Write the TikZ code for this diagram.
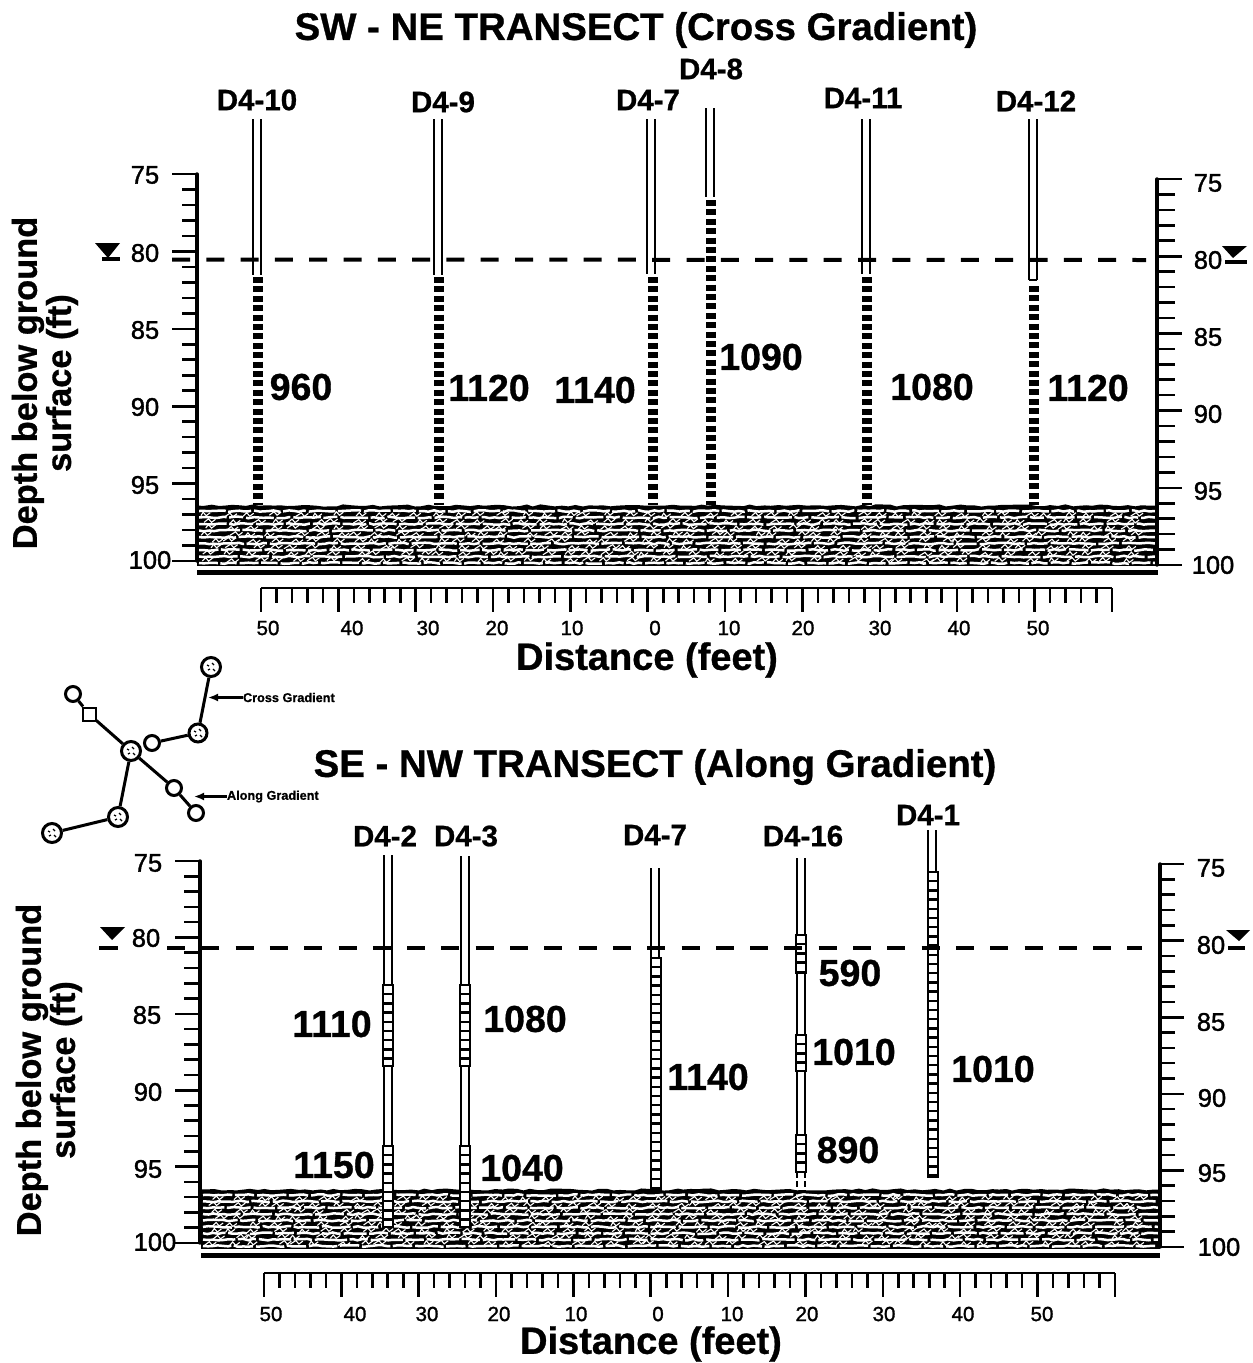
\documentclass[tikz,border=0pt]{standalone}
\usepackage{fontspec}
\setmainfont{Liberation Sans}
\newfontfamily\boldface[FakeBold=0.8]{Liberation Sans Bold}
\newfontfamily\semiface[FakeBold=1.4]{Liberation Sans}
\usetikzlibrary{decorations.pathmorphing,arrows.meta}
\newcount\txtc
\tikzset{
 x=1pt,y=-1pt,
 lbl/.style={inner sep=0pt,outer sep=0pt,anchor=center},
 titletxt/.style={lbl,font=\boldface\fontsize{38.4}{38.4}\selectfont},
 disttxt/.style={lbl,font=\boldface\fontsize{38}{38}\selectfont},
 depthtxt/.style={lbl,rotate=90,font=\boldface\fontsize{34.4}{34.4}\selectfont},
 welltxt/.style={lbl,font=\boldface\fontsize{29.5}{29.5}\selectfont},
 valtxt/.style={lbl,font=\boldface\fontsize{37.5}{37.5}\selectfont},
 axtxt/.style={lbl,font=\semiface\fontsize{25.5}{25.5}\selectfont},
 scaletxt/.style={lbl,font=\semiface\fontsize{20.5}{20.5}\selectfont},
 smalltxt/.style={lbl,anchor=west,font=\boldface\fontsize{12.7}{12.7}\selectfont},
 axisline/.style={line width=3.4pt,line cap=round},
 tickline/.style={line width=2.6pt},
 wt/.style={line width=4pt,dash pattern=on 18pt off 16.3pt},
 casing/.style={line width=2.4pt},
 screenbox/.style={fill=white,draw=black,line width=2.6pt},
 mapc/.style={circle,draw=black,fill=white,line width=3pt,inner sep=0pt},
 mapedge/.style={line width=3pt},
 arr/.style={line width=2.2pt,-{Latex[length=10pt,width=8pt]}},
 wob/.style={decorate,decoration={random steps,segment length=5pt,amplitude=0.8pt}},
}
\newcommand\txt[4]{\global\advance\txtc by 1 \node[#1] (t\the\txtc) at (#2,#3) {#4};}
\newcommand\yaxis[5]{%
 \draw[axisline] (#1,#2) -- (#1,#3);
 \foreach \k in {0,...,25}{%
  \pgfmathsetmacro\yy{#2+\k*(#3-#2)/25}%
  \pgfmathtruncatemacro\mm{mod(\k,5)}%
  \ifnum\mm=0 \draw[tickline] (#1,\yy) -- (#4,\yy);
  \else \draw[tickline] (#1,\yy) -- (#5,\yy);\fi
 }}
\newcommand\xscale[2]{%
 \draw[tickline] (#1,#2) -- ({#1+55*15.47},#2);
 \foreach \k in {0,...,55}{%
  \pgfmathsetmacro\xx{#1+\k*15.47}%
  \pgfmathtruncatemacro\mm{mod(\k,5)}%
  \ifnum\mm=0 \draw[tickline] (\xx,#2) -- (\xx,{#2+24});
  \else \draw[tickline] (\xx,#2) -- (\xx,{#2+15});\fi
 }}
\newcommand\clay[4]{%
 \fill[black] (#1,#2) rectangle (#3,#4);
 \foreach \r in {0,...,8}{%
  \pgfmathsetmacro\yy{#2+4+\r*(#4-#2-7)/8}%
  \pgfmathsetmacro\da{18+rnd*30}\pgfmathsetmacro\db{12+rnd*20}%
  \draw[white,line width=2.5pt,wob,dash pattern=on \da pt off 2.5pt on \db pt off 3pt] (#1+2,\yy) -- (#3-2,\yy);
 }
 \foreach \r in {0,...,7}{%
  \foreach \c in {0,...,44}{%
   \pgfmathsetmacro\xx{#1+3+\c*((#3-#1-20)/45)+rnd*14}%
   \pgfmathsetmacro\yy{#2+8+\r*(#4-#2-7)/8+rnd*2}%
   \pgfmathsetmacro\aa{2+rnd*4}%
   \draw[white,line width=1.1pt] (\xx,\yy) -- ++(\aa,-3.5) -- ++(3,3.5) -- ++(4,-3);
  }
 }
 \draw[black,line width=3pt,decorate,decoration={random steps,segment length=7pt,amplitude=1.1pt}] (#1,#2) -- (#3,#2);
}
\newcommand\casingpipe[3]{\draw[casing] (#1-4.2,#2) -- (#1-4.2,#3) (#1+4.2,#2) -- (#1+4.2,#3);}
\newcommand\barscreen[3]{\draw[line width=10.5pt,dash pattern=on 6pt off 3.4pt] (#1,#2) -- (#1,#3);}
\newcommand\cellscreen[3]{%
 \draw[screenbox] (#1-5,#2) rectangle (#1+5,#3);
 \pgfmathsetmacro\nn{int((#3-#2)/9.2)}%
 \foreach \k in {1,...,\nn}{\pgfmathsetmacro\yy{#2+\k*9.2}\ifdim\yy pt<#3pt \draw[line width=2.4pt] (#1-5,\yy) -- (#1+5,\yy);\fi}}
\begin{document}
\begin{tikzpicture}
\useasboundingbox (0,0) rectangle (1253,1363);
\pgfmathsetseed{4242}

%================ PANEL 1
\txt{titletxt}{636}{30}{SW - NE TRANSECT (Cross Gradient)}
\clay{197}{507}{1157}{566}
\fill (197,570) rectangle (1158,575);
\yaxis{197}{174}{561}{172}{182}
\yaxis{1157}{179}{565}{1182}{1175}
\foreach \xa/\ya/\ta in {145/175/75,145/253/80,145/330/85,145/407/90,145/485/95,150/560/100}{\global\advance\txtc by 1 \node[axtxt] (t\the\txtc) at (\xa,\ya) {\ta};}
\foreach \xa/\ya/\ta in {1208/183/75,1208/260/80,1208/337/85,1208/414/90,1208/491/95,1213/565/100}{\global\advance\txtc by 1 \node[axtxt] (t\the\txtc) at (\xa,\ya) {\ta};}
\casingpipe{257}{119}{275}\barscreen{258}{277}{505}
\casingpipe{438}{119}{275}\barscreen{439}{277}{505}
\casingpipe{651}{119}{274}\barscreen{653}{277}{505}
\casingpipe{710}{108}{197}\barscreen{711}{200}{505}
\casingpipe{866}{119}{274}\barscreen{867}{277}{505}
\casingpipe{1033}{119}{280}\barscreen{1034}{286}{505}
\draw[casing] (1028.8,280) -- (1037.2,280);
\draw[wt] (172,259.5) -- (1146,260);
\foreach \xa/\ya/\ta in {257/100/D4-10,443/102/D4-9,648/100/D4-7,711/69/D4-8,863/98/D4-11,1036/101/D4-12}{\global\advance\txtc by 1 \node[welltxt] (t\the\txtc) at (\xa,\ya) {\ta};}
\foreach \xa/\ya/\ta in {301/387/960,489/388/1120,595/390/1140,761/357/1090,932/387/1080,1088/388/1120}{\global\advance\txtc by 1 \node[valtxt] (t\the\txtc) at (\xa,\ya) {\ta};}
\fill (95,243) -- (120,243) -- (108,258) -- cycle;
\draw[line width=4pt] (102,259) -- (120,259);
\fill (1222,246) -- (1247,246) -- (1233,258) -- cycle;
\draw[line width=4pt] (1225,262) -- (1247,262);
\xscale{261}{588}
\foreach \xa/\ta in {268/50,352/40,428/30,497/20,572/10,655/0,729/10,803/20,880/30,959/40,1038/50}{\global\advance\txtc by 1 \node[scaletxt] (t\the\txtc) at (\xa,628) {\ta};}
\txt{disttxt}{647}{660}{Distance (feet)}
\txt{depthtxt}{28}{383}{Depth below ground}
\txt{depthtxt}{62}{383}{surface (ft)}

%================ MAP
\node[mapc,minimum size=19pt] (m1) at (211,667) {};
\node[mapc,minimum size=18pt] (m2) at (198,733) {};
\node[mapc,minimum size=15pt] (m3) at (152,743) {};
\node[mapc,minimum size=19pt] (m4) at (131,751) {};
\node[mapc,minimum size=15pt] (m5) at (73,694) {};
\node[draw=black,fill=white,line width=2pt,inner sep=0pt,minimum size=13pt] (m6) at (89,714) {};
\node[mapc,minimum size=15pt] (m7) at (174,788) {};
\node[mapc,minimum size=15pt] (m8) at (196,813) {};
\node[mapc,minimum size=19pt] (m9) at (118,817) {};
\node[mapc,minimum size=19pt] (m10) at (52,833) {};
\draw[mapedge] (m1) -- (m2);
\draw[mapedge] (m2) -- (m3);
\draw[mapedge] (m4) -- (m6);
\draw[mapedge] (m6) -- (m5);
\draw[mapedge] (m4) -- (m7);
\draw[mapedge] (m7) -- (m8);
\draw[mapedge] (m4) -- (m9);
\draw[mapedge] (m9) -- (m10);
\foreach \mx/\my in {211/667,198/733,131/751,118/817,52/833}{
 \draw[line width=1.2pt] (\mx-4,\my-2) -- ++(2,1) (\mx+1,\my-4) -- ++(2,2) (\mx+2,\my+2) -- ++(2,2) (\mx-3,\my+3) -- ++(2,-1);
}
\node[smalltxt] (cg) at (243,697.5) {Cross Gradient};
\node[smalltxt] (ag) at (227,796.5) {Along Gradient};
\coordinate (cgt) at (208,697.5);
\coordinate (agt) at (194,796.5);
\draw[arr] (cg.west) -- (cgt);
\draw[arr] (ag.west) -- (agt);

%================ PANEL 2
\txt{titletxt}{655}{767}{SE - NW TRANSECT (Along Gradient)}
\clay{201}{1191}{1160}{1249}
\fill (201,1252.5) rectangle (1160,1258);
\yaxis{200}{861}{1243}{175}{184}
\yaxis{1160}{864}{1247}{1184}{1175}
\foreach \xa/\ya/\ta in {148/863/75,146/938/80,147/1015/85,148/1092/90,148/1169/95,155/1242/100}{\global\advance\txtc by 1 \node[axtxt] (t\the\txtc) at (\xa,\ya) {\ta};}
\foreach \xa/\ya/\ta in {1211/868/75,1211/945/80,1211/1022/85,1212/1098/90,1212/1173/95,1219/1247/100}{\global\advance\txtc by 1 \node[axtxt] (t\the\txtc) at (\xa,\ya) {\ta};}
\casingpipe{388}{855}{1190}\cellscreen{388}{985}{1066}\cellscreen{388}{1146}{1227}
\casingpipe{465}{856}{1190}\cellscreen{465}{985}{1066}\cellscreen{465}{1146}{1227}
\casingpipe{655}{868}{958}\cellscreen{656}{958}{1190}
\casingpipe{801}{858}{1172}\cellscreen{801}{935}{973}\cellscreen{801}{1035}{1071}\cellscreen{801}{1135}{1172}
\draw[casing,dash pattern=on 6pt off 3pt] (797,1172) -- (797,1190) (805,1172) -- (805,1190);
\casingpipe{932}{830}{872}\cellscreen{933}{872}{1177}
\draw[wt] (167,948) -- (1142,948);
\foreach \xa/\ya/\ta in {385/836/D4-2,466/836/D4-3,655/835/D4-7,803/836/D4-16,928/815/D4-1}{\global\advance\txtc by 1 \node[welltxt] (t\the\txtc) at (\xa,\ya) {\ta};}
\foreach \xa/\ya/\ta in {332/1024/1110,525/1019/1080,334/1165/1150,522/1168/1040,708/1077/1140,850/973/590,854/1052/1010,848/1150/890,993/1069/1010}{\global\advance\txtc by 1 \node[valtxt] (t\the\txtc) at (\xa,\ya) {\ta};}
\fill (100,927) -- (125,927) -- (112,940) -- cycle;
\draw[line width=4pt] (99,948) -- (118,948);
\fill (1226,930) -- (1250,930) -- (1239,941) -- cycle;
\draw[line width=4pt] (1228,948) -- (1245,948);
\xscale{264}{1273}
\foreach \xa/\ta in {271/50,355/40,427/30,499/20,576/10,658/0,732/10,807/20,884/30,963/40,1042/50}{\global\advance\txtc by 1 \node[scaletxt] (t\the\txtc) at (\xa,1314) {\ta};}
\txt{disttxt}{651}{1344}{Distance (feet)}
\txt{depthtxt}{32}{1070}{Depth below ground}
\txt{depthtxt}{66}{1070}{surface (ft)}
\end{tikzpicture}
\end{document}
